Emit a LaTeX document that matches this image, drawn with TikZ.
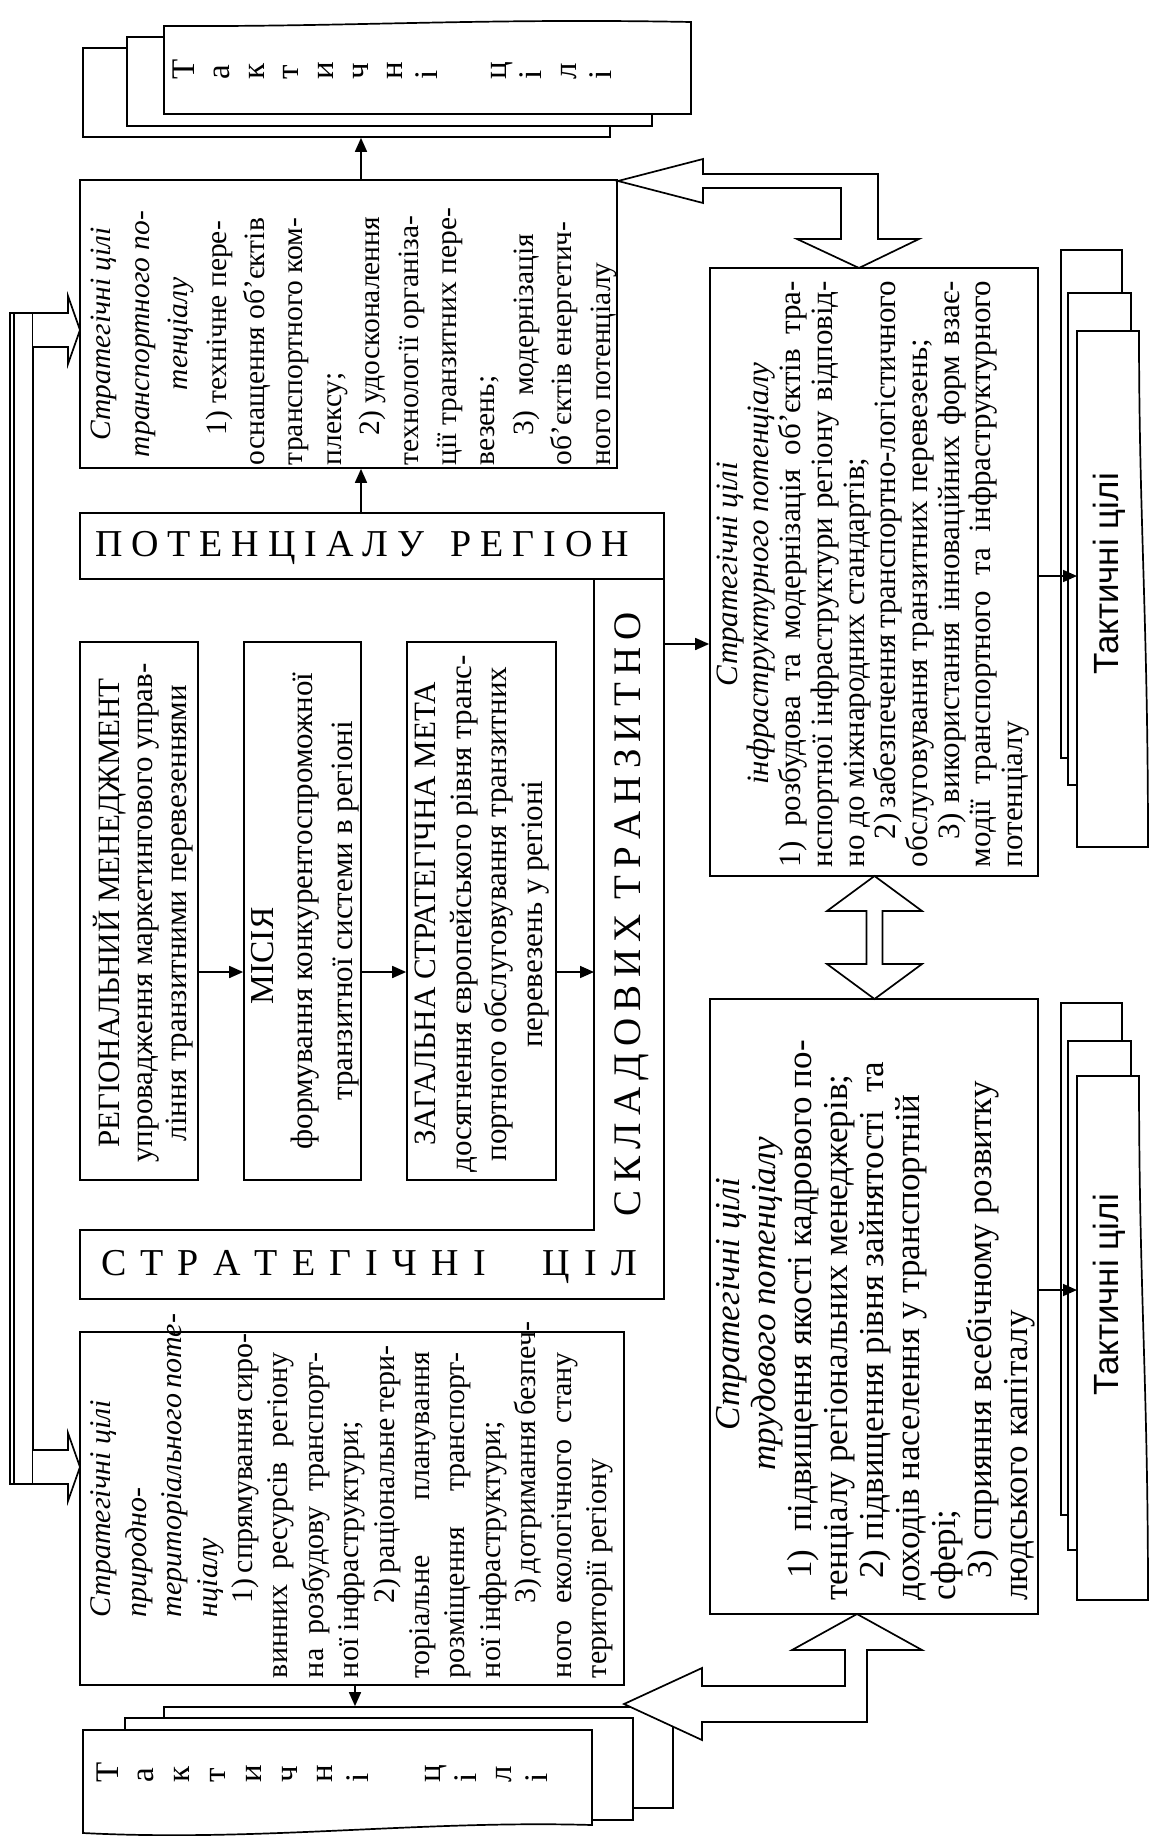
\documentclass[tikz,border=0pt]{standalone}
\usepackage{fontspec}
\setmainfont{Liberation Serif}
\newfontfamily\sansfam{Liberation Sans}
\usetikzlibrary{arrows.meta}
\newlength\tw
\newcommand\Lc[1]{\hbox to\tw{\hfil#1\hfil}}
\newcommand\Lj[1]{\hbox to\tw{#1}}
\newcommand\Ll[1]{\hbox to\tw{#1\hfil}}
\newcommand\fsz[2]{\fontsize{#1}{#2}\selectfont}
\begin{document}
\begin{tikzpicture}[x=1pt,y=-1pt,
  lw/.style={line width=1.7pt},
  box/.style={draw, lw, fill=white, inner sep=0pt},
  card/.style={draw, lw, fill=white, inner sep=0pt},
  arr/.style={lw, -{Triangle[length=14pt,width=12pt]}},
  hollow/.style={draw, lw, fill=white, line join=miter},
  tbox/.style={rotate=90, inner sep=0pt},
  rtxt/.style={rotate=90, inner sep=0pt, align=center},
  letters/.style={rotate=90, inner sep=0pt, align=left},
]
\useasboundingbox (0,0) rectangle (1149,1836);

% ---------- top-left stack of tactical goals
\node[card, minimum width=527pt, minimum height=89pt] (tlA) at (346.5,92.5) {};
\node[card, minimum width=525pt, minimum height=89pt] (tlB) at (389.5,81.5) {};
\draw[card] (164,114) -- (164,26) .. controls (350,27) and (480,18) .. (691,22) -- (691,114) -- cycle;
\node[letters, anchor=west, font=\fsz{33}{34.7}] (tlT) at (392,80) {Т\\а\\к\\т\\и\\ч\\н\\і\\[34.7pt]ц\\і\\л\\і};

% ---------- bottom-left stack
\node[card, minimum width=509pt, minimum height=101pt] (blA) at (418.5,1757.5) {};
\node[card, minimum width=508pt, minimum height=102pt] (blB) at (379,1769) {};
\draw[card] (83,1730) -- (592,1730) -- (592,1825) .. controls (420,1820) and (260,1842) .. (83,1833) -- cycle;
\node[letters, anchor=west, font=\fsz{33}{35.8}] (blT) at (322,1783) {Т\\а\\к\\т\\и\\ч\\н\\і\\[35.8pt]ц\\і\\л\\і};

% ---------- right stacks
\node[card, minimum width=61pt, minimum height=508pt] (rtA) at (1091.5,504) {};
\node[card, minimum width=63pt, minimum height=492pt] (rtB) at (1099.5,539) {};
\draw[card] (1077,331) -- (1139,331) .. controls (1139,520) and (1148,620) .. (1148,847) -- (1077,847) -- cycle;
\coordinate (rtF) at (1077,576);
\node[rotate=90, inner sep=0pt, font=\sansfam\fsz{35}{40}] (rtT) at (1109,574) {Тактичні цілі};

\node[card, minimum width=61pt, minimum height=512pt] (rbA) at (1091.5,1259) {};
\node[card, minimum width=63pt, minimum height=509pt] (rbB) at (1099.5,1295.5) {};
\draw[card] (1077,1076) -- (1139,1076) .. controls (1139,1290) and (1148,1380) .. (1148,1600) -- (1077,1600) -- cycle;
\coordinate (rbF) at (1077,1290);
\node[rotate=90, inner sep=0pt, font=\sansfam\fsz{35}{40}] (rbT) at (1109,1295) {Тактичні цілі};

% ---------- box: transport potential
\node[box, minimum width=537pt, minimum height=288pt] (b2) at (348.5,324) {};
\node[tbox, font=\fsz{29.5}{38.4}] (t2) at (354,334) {\vbox{\setlength\tw{262pt}\lineskiplimit=-1000pt
\Lc{\itshape Стратегічні цілі}
\Lc{\itshape транспортного по-}
\Lc{\itshape тенціалу}
\Ll{\hspace*{30pt}1) технічне пере-}
\Ll{оснащення об’єктів}
\Ll{транспортного ком-}
\Ll{плексу;}
\Ll{\hspace*{30pt}2) удосконалення}
\Ll{технології організа-}
\Ll{ції транзитних пере-}
\Ll{везень;}
\Ll{\hspace*{30pt}3)\ \ модернізація}
\Ll{об’єктів енергетич-}
\Ll{ного потенціалу}}};

% ---------- frame: strategic goals of components
\draw[lw, fill=white] (594,579) -- (664,579) -- (664,1299) -- (80,1299) -- (80,1230) -- (594,1230) -- cycle;
\node[box, minimum width=584pt, minimum height=66pt] (tS) at (372,546) {};
\node[inner sep=0pt, font=\fsz{38}{40}] (tST) at (362,548) {\makebox[534pt][s]{П\hfill О\hfill Т\hfill Е\hfill Н\hfill Ц\hfill І\hfill А\hfill Л\hfill У\hfill\hfill\hfill Р\hfill Е\hfill Г\hfill І\hfill О\hfill Н}};
\node[inner sep=0pt, font=\fsz{38}{40}] (bST) at (369,1267) {\makebox[536pt][s]{С\hfill Т\hfill Р\hfill А\hfill Т\hfill Е\hfill Г\hfill І\hfill Ч\hfill Н\hfill І\hfill\hfill\hfill\hfill Ц\hfill І\hfill Л}};
\node[rotate=90, inner sep=0pt, font=\fsz{39}{42}] (rST) at (632,914) {\makebox[604pt][s]{С\hfill К\hfill Л\hfill А\hfill Д\hfill О\hfill В\hfill И\hfill Х\hfill\hfill Т\hfill Р\hfill А\hfill Н\hfill З\hfill И\hfill Т\hfill Н\hfill О}};

\node[box, minimum width=118pt, minimum height=538pt] (RM) at (139,911) {};
\node[box, minimum width=117pt, minimum height=538pt] (MI) at (302.5,911) {};
\node[box, minimum width=149pt, minimum height=538pt] (ZS) at (481.5,911) {};
\node[rtxt, font=\fsz{31}{33.5}] (tRM) at (143,913) {РЕГІОНАЛЬНИЙ МЕНЕДЖМЕНТ\\упровадження маркетингового управ-\\ління транзитними перевезеннями};
\node[rtxt, font=\fsz{31}{39.5}] (tMI) at (305,911) {{\fsz{33.5}{39.5}МІСІЯ\rule{90pt}{0pt}}\\формування конкурентоспроможної\\транзитної системи в регіоні};
\node[rtxt, font=\fsz{31}{35.7}] (tZS) at (482,914) {ЗАГАЛЬНА СТРАТЕГІЧНА МЕТА\\досягнення європейського рівня транс-\\портного обслуговування транзитних\\перевезень у регіоні};

% ---------- box: natural-territorial potential
\node[box, minimum width=544pt, minimum height=353pt] (b5) at (352,1508.5) {};
\node[tbox, font=\fsz{30}{35.4}] (t5) at (352,1515) {\vbox{\setlength\tw{326pt}\lineskiplimit=-1000pt
\Ll{\hspace*{61pt}\itshape Стратегічні цілі}
\Ll{\hspace*{61pt}\itshape природно-}
\Ll{\hspace*{61pt}\itshape територіального поте-}
\Ll{\hspace*{61pt}\itshape нціалу}
\Lj{\hspace*{75pt}1) спрямування сиро-}
\Lj{винних ресурсів регіону}
\Lj{на розбудову транспорт-}
\Ll{ної інфраструктури;}
\Lj{\hspace*{75pt}2) раціональне тери-}
\Lj{торіальне планування}
\Lj{розміщення транспорт-}
\Ll{ної інфраструктури;}
\Lj{\hspace*{75pt}3) дотримання безпеч-}
\Lj{ного екологічного стану}
\Ll{території регіону}}};

% ---------- box: infrastructure potential
\node[box, minimum width=328pt, minimum height=608pt] (inf) at (874,572) {};
\node[tbox, font=\fsz{31}{31.7}] (ti) at (873,574) {\vbox{\setlength\tw{586pt}\lineskiplimit=-1000pt
\Lc{\itshape Стратегічні цілі}
\Lc{\itshape інфраструктурного потенціалу}
\Lj{1) розбудова та модернізація об’єктів тра-}
\Lj{нспортної інфраструктури регіону відповід-}
\Ll{но до міжнародних стандартів;}
\Lj{\hspace*{28pt}2) забезпечення транспортно-логістичного}
\Ll{обслуговування транзитних перевезень;}
\Lj{\hspace*{28pt}3) використання інноваційних форм взає-}
\Lj{модії транспортного та інфраструктурного}
\Ll{потенціалу}}};

% ---------- box: labour potential
\node[box, minimum width=328pt, minimum height=615pt] (lab) at (874,1306.5) {};
\node[tbox, font=\fsz{35}{36}] (tl) at (876,1304) {\vbox{\setlength\tw{593pt}\lineskiplimit=-1000pt
\Lc{\itshape Стратегічні цілі}
\Lc{\itshape трудового потенціалу}
\Ll{\hspace*{22pt}1)\ \ підвищення якості кадрового по-}
\Ll{тенціалу регіональних менеджерів;}
\Ll{\hspace*{22pt}2) підвищення рівня зайнятості\ \ та}
\Ll{доходів населення у транспортній}
\Ll{сфері;}
\Ll{\hspace*{22pt}3) сприяння всебічному розвитку}
\Ll{людського капіталу}}};

% ---------- hollow arrows
\draw[hollow] (618,181) -- (703,159) -- (703,174) -- (878,174) -- (878,239) -- (919,239) -- (859,268) -- (797,239) -- (841,239) -- (841,188) -- (703,188) -- (703,203) -- cycle;
\draw[hollow] (874.5,876) -- (922,911) -- (882.5,911) -- (882.5,964) -- (922,964) -- (874.5,999) -- (827,964) -- (866.5,964) -- (866.5,911) -- (827,911) -- cycle;
\draw[hollow] (624,1704) -- (702,1668) -- (702,1686) -- (845,1686) -- (845,1650) -- (792,1650) -- (857,1614) -- (922,1650) -- (867,1650) -- (867,1722) -- (702,1722) -- (702,1740) -- cycle;

% ---------- left bracket
\draw[lw, fill=white] (10,313) rectangle (33,1484);
\draw[lw] (14,313) -- (14,1484);
\draw[hollow] (33,313) -- (68,313) -- (68,296) -- (80,330) -- (68,364) -- (68,347) -- (33,347);
\draw[hollow] (33,1450) -- (68,1450) -- (68,1433) -- (80,1467) -- (68,1501) -- (68,1484) -- (33,1484);

% ---------- solid arrows
\coordinate (ax) at (361,0);
\coordinate (ax5) at (355,0);
\coordinate (ay) at (0,972);
\coordinate (rsL) at (594,972);
\coordinate (rsR) at (664,644);
\draw[arr] (b2.north -| ax) -- (tlA.south -| ax);
\draw[arr] (tS.north -| ax) -- (b2.south -| ax);
\draw[arr] (RM.east |- ay) -- (MI.west |- ay);
\draw[arr] (MI.east |- ay) -- (ZS.west |- ay);
\draw[arr] (ZS.east |- ay) -- (rsL);
\draw[arr] (rsR) -- (inf.west |- rsR);
\draw[arr] (b5.south -| ax5) -- (blA.north -| ax5);
\draw[arr] (inf.east |- rtF) -- (rtF);
\draw[arr] (lab.east |- rbF) -- (rbF);
\end{tikzpicture}
\end{document}
